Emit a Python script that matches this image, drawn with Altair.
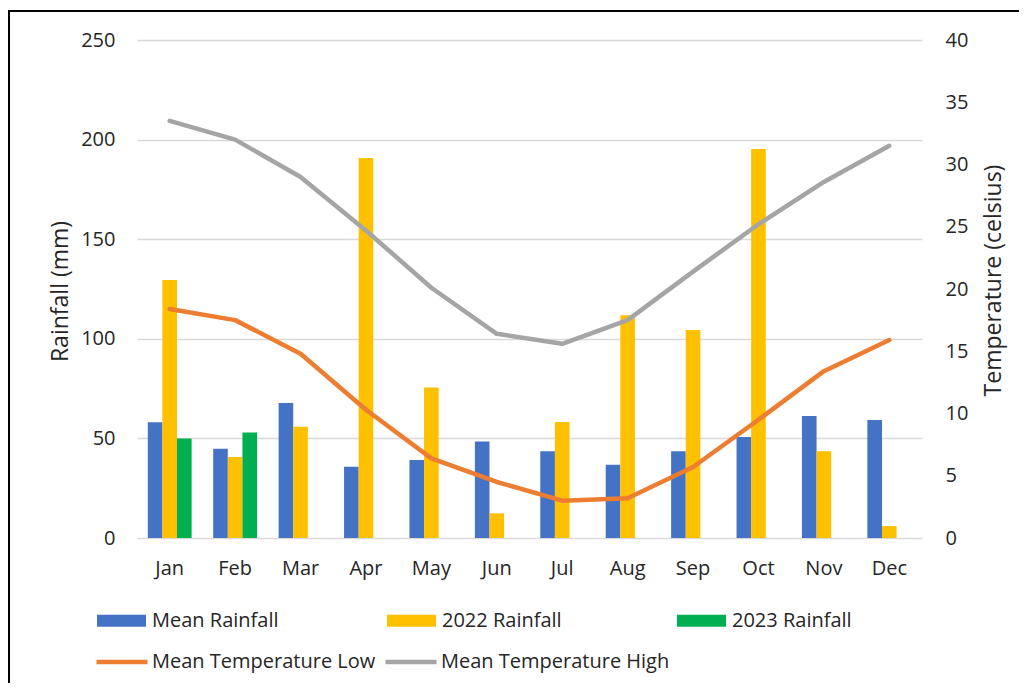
import altair as alt
import pandas as pd

months = ["Jan", "Feb", "Mar", "Apr", "May", "Jun", "Jul", "Aug", "Sep", "Oct", "Nov", "Dec"]
mean_rain = [58.1, 44.8, 67.8, 35.8, 39.2, 48.4, 43.5, 36.8, 43.5, 50.7, 61.2, 59.2]
rain_2022 = [129.5, 40.7, 55.9, 190.8, 75.6, 12.4, 58.2, 111.8, 104.4, 195.3, 43.5, 6.0]
rain_2023 = [50.0, 53.0, None, None, None, None, None, None, None, None, None, None]
temp_low = [18.4, 17.5, 14.8, 10.3, 6.4, 4.5, 3.0, 3.2, 5.7, 9.5, 13.4, 15.9]
temp_high = [33.5, 32.0, 29.0, 24.7, 20.1, 16.4, 15.6, 17.5, 21.4, 25.2, 28.6, 31.5]

bar_series = ["Mean Rainfall", "2022 Rainfall", "2023 Rainfall"]
bar_colors = ["#4472C4", "#FFC000", "#00B050"]
line_series = ["Mean Temperature Low", "Mean Temperature High"]
line_colors = ["#ED7D31", "#A5A5A5"]

rows = []
for name, vals in zip(bar_series, [mean_rain, rain_2022, rain_2023]):
    for m, v in zip(months, vals):
        if v is not None:
            rows.append({"month": m, "series": name, "value": v})
bar_df = pd.DataFrame(rows)

lrows = []
for name, vals in zip(line_series, [temp_low, temp_high]):
    for m, v in zip(months, vals):
        lrows.append({"month": m, "series": name, "temp": v})
line_df = pd.DataFrame(lrows)

FONT = "Open Sans"
TXT = "#262626"

x_enc = alt.X(
    "month:N",
    sort=months,
    scale=alt.Scale(domain=months, paddingInner=0.33, paddingOuter=0.165),
    axis=alt.Axis(title=None, labelAngle=0, domain=False, ticks=False,
                  labelPadding=20, labelFontSize=20, labelFont=FONT,
                  labelColor=TXT, grid=False),
)

bars = alt.Chart(bar_df).mark_bar().encode(
    x=x_enc,
    xOffset=alt.XOffset("series:N", sort=bar_series,
                        scale=alt.Scale(domain=bar_series)),
    y=alt.Y("value:Q",
            scale=alt.Scale(domain=[0, 250], nice=False),
            axis=alt.Axis(values=[0, 50, 100, 150, 200, 250], title="Rainfall (mm)",
                          grid=True, gridColor="#d9d9d9", gridWidth=1.3,
                          domain=False, ticks=False, labelPadding=22,
                          labelFontSize=20, labelFont=FONT, labelColor=TXT,
                          titleFontSize=23, titleFont=FONT, titleColor=TXT,
                          titleFontWeight="normal", titleAngle=270,
                          titleX=-77, titleY=251, titleAlign="center",
                          titleBaseline="middle")),
    fill=alt.Fill("series:N", sort=bar_series,
                  scale=alt.Scale(domain=bar_series, range=bar_colors),
                  legend=alt.Legend(title=None, orient="none", legendX=-40, legendY=556,
                                    direction="horizontal", columns=3, gridAlign="all",
                                    columnPadding=108, padding=0,
                                    symbolType="M-1,-0.245H1V0.245H-1Z", symbolSize=2401,
                                    symbolStrokeWidth=0, labelFontSize=20, labelFont=FONT,
                                    labelColor=TXT, labelOffset=6, labelLimit=400)),
)

lines = alt.Chart(line_df).mark_line(strokeWidth=4.5, strokeCap="round", strokeJoin="round").encode(
    x=x_enc,
    y=alt.Y("temp:Q",
            scale=alt.Scale(domain=[0, 40], nice=False),
            axis=alt.Axis(orient="right", values=[0, 5, 10, 15, 20, 25, 30, 35, 40],
                          title="Temperature (celsius)", grid=False,
                          domain=False, ticks=False, labelPadding=23,
                          labelFontSize=20, labelFont=FONT, labelColor=TXT,
                          titleFontSize=23, titleFont=FONT, titleColor=TXT,
                          titleFontWeight="normal", titleAngle=270,
                          titleX=71, titleY=240, titleAlign="center",
                          titleBaseline="middle")),
    stroke=alt.Stroke("series:N", sort=line_series,
                      scale=alt.Scale(domain=line_series, range=line_colors),
                      legend=alt.Legend(title=None, orient="none", legendX=-43, legendY=594,
                                        direction="horizontal", columns=2,
                                        columnPadding=0, padding=0,
                                        symbolType="stroke", symbolSize=2601,
                                        symbolStrokeWidth=4.5, labelFontSize=20,
                                        labelFont=FONT, labelColor=TXT, labelOffset=2,
                                        labelLimit=400)),
)

frame_data = alt.Data(values=[{"k": 1}])
top_border = alt.Chart(frame_data).mark_rule(color="black", strokeWidth=2).encode(
    x=alt.value(-129), x2=alt.value(882), y=alt.value(-29))
left_border = alt.Chart(frame_data).mark_rule(color="black", strokeWidth=2).encode(
    x=alt.value(-128), y=alt.value(-30), y2=alt.value(643))

chart = alt.layer(bars, lines, top_border, left_border).resolve_scale(
    y="independent"
).properties(
    width=785, height=498,
    autosize=alt.AutoSizeParams(type="none"),
    padding={"left": 129, "top": 32, "right": 97, "bottom": 145},
    background="white",
).configure(font=FONT).configure_view(stroke=None)

chart.save("out.html", embed_options={"renderer": "svg", "actions": False})
